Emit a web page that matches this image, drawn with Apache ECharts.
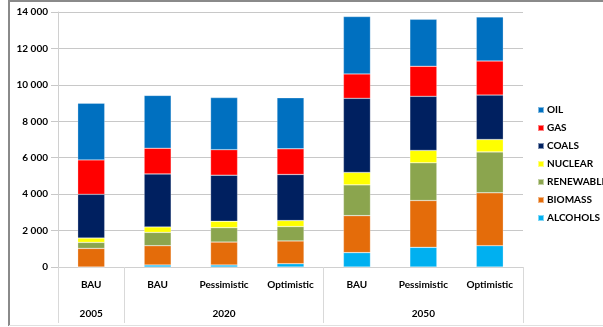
<!DOCTYPE html>
<html>
<head>
<meta charset="utf-8">
<script src="https://cdn.jsdelivr.net/npm/echarts@6/dist/echarts.min.js"></script>
<style>
  html, body { margin: 0; padding: 0; background: #fff; }
  #graph { width: 603px; height: 327px; }
</style>
</head>
<body>
<div id="graph"></div>
<script>
// sub-categories (first label row) and their year groups (second row)
const scenarios = ['BAU', 'BAU', 'Pessimistic', 'Optimistic', 'BAU', 'Pessimistic', 'Optimistic'];
const years = ['2005', '2020', '2050'];
const yearSizes = [1, 3, 3];

// stacked from the bottom up
const alcohols   = [0,    110,  110,  180,  790,  1080, 1170];
const biomass    = [1020, 1060, 1260, 1250, 2030, 2570, 2900];
const renewables = [330,  730,  790,  790,  1690, 2070, 2250];
const nuclear    = [240,  300,  350,  330,  680,  680,  680];
const coals      = [2400, 2910, 2530, 2530, 4070, 2970, 2440];
const gas        = [1890, 1410, 1400, 1410, 1340, 1650, 1870];
const oil        = [3110, 2900, 2860, 2800, 3150, 2580, 2420];

const yTicks = [0, 2000, 4000, 6000, 8000, 10000, 12000, 14000];

const font = 'Lato, "Open Sans", sans-serif';

let seriesDefs = [
    {name: 'ALCOHOLS',   data: alcohols,   color: '#00B0F0'},
    {name: 'BIOMASS',    data: biomass,    color: '#E46C0A'},
    {name: 'RENEWABLES', data: renewables, color: '#8BA54E'},
    {name: 'NUCLEAR',    data: nuclear,    color: '#FFFF00'},
    {name: 'COALS',      data: coals,      color: '#002060'},
    {name: 'GAS',        data: gas,        color: '#FF0000'},
    {name: 'OIL',        data: oil,        color: '#0070C0'}
];

// group boundaries and centres on a 0..7 value scale
let bounds = [0];
let centres = [];
yearSizes.forEach(n => {
    let start = bounds[bounds.length - 1];
    centres.push(start + n / 2);
    bounds.push(start + n);
});

let myChart = echarts.init(document.getElementById('graph'));
myChart.setOption({
    animation: false,
    backgroundColor: '#fff',
    grid: {left: 58, right: 80, top: 12, bottom: 60},
    legend: {
        orient: 'vertical',
        left: 537,
        top: 104,
        padding: 0,
        icon: 'rect',
        itemWidth: 6,
        itemHeight: 6,
        itemGap: 6,
        data: seriesDefs.map(s => s.name).reverse(),
        textStyle: {fontFamily: font, fontSize: 10, fontWeight: 'bold', color: '#000', lineHeight: 12, padding: [0, 0, 0, -2]}
    },
    xAxis: [{
        type: 'category',
        data: scenarios,
        axisLine: {lineStyle: {color: '#d0d0d0'}},
        axisTick: {interval: 0, length: 28, lineStyle: {color: '#d9d9d9'}},
        axisLabel: {interval: 0, margin: 13, fontFamily: font, fontSize: 10, fontWeight: 'bold', color: '#000'}
    }, {
        type: 'value',
        position: 'bottom',
        min: 0,
        max: scenarios.length,
        axisLine: {show: false},
        splitLine: {show: false},
        axisTick: {show: true, customValues: bounds, length: 56, lineStyle: {color: '#d9d9d9'}},
        axisLabel: {
            customValues: centres,
            margin: 42,
            fontFamily: font, fontSize: 10, fontWeight: 'bold', color: '#000',
            formatter: v => years[centres.indexOf(v)]
        }
    }],
    yAxis: {
        type: 'value',
        min: 0,
        max: 14000,
        interval: 2000,
        axisLine: {show: true, lineStyle: {color: '#d0d0d0'}},
        axisTick: {show: true, length: 7, lineStyle: {color: '#c8c8c8'}},
        splitLine: {lineStyle: {color: '#c8c8c8'}},
        axisLabel: {
            margin: 10,
            fontFamily: font, fontSize: 10, fontWeight: 'bold', color: '#000',
            formatter: v => yTicks.includes(v) ? String(v).replace(/\B(?=(\d{3})+(?!\d))/g, ' ') : ''
        }
    },
    series: seriesDefs.map(s => ({
        name: s.name,
        type: 'bar',
        stack: 'total',
        barWidth: 27,
        data: s.data,
        itemStyle: {color: s.color, borderColor: 'rgba(255,255,255,0.5)', borderWidth: 0.5}
    })),
    graphic: [
        {type: 'line', shape: {x1: 9, y1: 1, x2: 603, y2: 1}, style: {stroke: '#8a8a8a', lineWidth: 2}},
        {type: 'line', shape: {x1: 9, y1: 0, x2: 9, y2: 326}, style: {stroke: '#8a8a8a', lineWidth: 2}},
        {type: 'line', shape: {x1: 9, y1: 325.5, x2: 603, y2: 325.5}, style: {stroke: '#e0e0e0', lineWidth: 1}}
    ]
});
</script>
</body>
</html>
